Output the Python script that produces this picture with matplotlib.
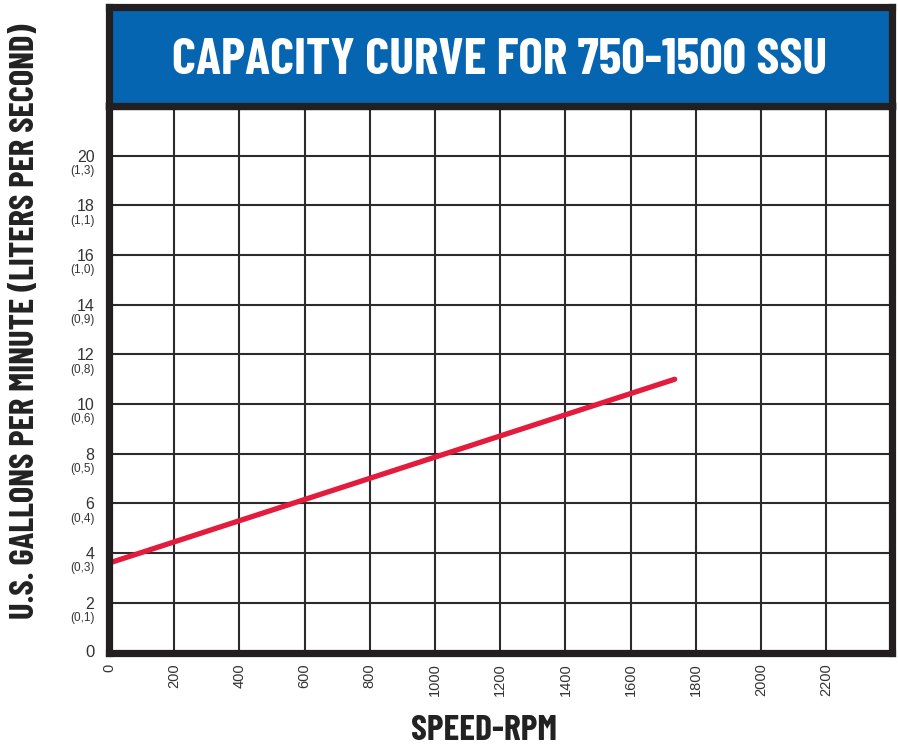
import matplotlib
matplotlib.use("Agg")
import matplotlib.pyplot as plt

# ---- data ----
speed_rpm = [0, 1735]
gpm = [3.6, 11.0]
y_ticks = [2, 4, 6, 8, 10, 12, 14, 16, 18, 20]
y_ticks_lps = ["(0,1)", "(0,3)", "(0,4)", "(0,5)", "(0,6)", "(0,8)", "(0,9)", "(1,0)", "(1,1)", "(1,3)"]
x_ticks = [0, 200, 400, 600, 800, 1000, 1200, 1400, 1600, 1800, 2000, 2200]
title = "CAPACITY CURVE FOR 750-1500 SSU"
x_label = "SPEED-RPM"
y_label = "U.S. GALLONS PER MINUTE (LITERS PER SECOND)"

cond = ["Barlow Condensed", "DejaVu Sans"]
plain = ["Liberation Sans", "DejaVu Sans"]

W, H = 898, 751
fig = plt.figure(figsize=(W / 100, H / 100), dpi=100)

frame_c = "#231f20"
grid_c = "#2b2b2b"
blue = "#0565b0"
red = "#e31b3d"
txt_c = "#333333"

# plot axes
x0, x1 = 109 / W, 891.5 / W
yb, yt = (H - 652.5) / H, (H - 106) / H
ax = fig.add_axes([x0, yb, x1 - x0, yt - yb])
ax.set_xlim(0, 2400)
ax.set_ylim(0, 22)
for s in ax.spines.values():
    s.set_linewidth(5.2)
    s.set_color(frame_c)
    s.set_zorder(5)
ax.set_xticks(range(0, 2401, 200))
ax.set_yticks(range(0, 23, 2))
ax.grid(True, color=grid_c, linewidth=1.5)
ax.tick_params(length=0, labelleft=False, labelbottom=False)
ax.plot(speed_rpm, gpm, color=red, linewidth=3.8, solid_capstyle="round", zorder=4)

# x tick labels
for v in x_ticks:
    ax.annotate(str(v), xy=(v, 0), xycoords="data", xytext=(0, -8), textcoords="offset points",
                rotation=90, ha="center", va="top", fontsize=10.5, color=txt_c, family=plain)
# y tick labels
ax.annotate("0", xy=(0, 0), xytext=(-10.5, 0), textcoords="offset points",
            ha="right", va="center", fontsize=12, color=txt_c, family=plain)
for v, l in zip(y_ticks, y_ticks_lps):
    ax.annotate(str(v), xy=(0, v), xytext=(-10.5, -1), textcoords="offset points",
                ha="right", va="center", fontsize=11.5, color=txt_c, family=plain)
    ax.annotate(l, xy=(0, v), xytext=(-10.5, -11), textcoords="offset points",
                ha="right", va="center", fontsize=8.5, color=txt_c, family=plain)

# title box
tb_top = (H - 6.5) / H
tax = fig.add_axes([x0, yt, x1 - x0, tb_top - yt])
tax.set_facecolor(blue)
tax.set_xticks([])
tax.set_yticks([])
for s in tax.spines.values():
    s.set_linewidth(5.2)
    s.set_color(frame_c)
ttl = fig.text(500 / W, (H - 74) / H, title, ha="center", va="baseline",
               color="white", fontsize=34, fontweight="bold", family=cond)

ylab = fig.text(25.5 / W, (H - 321) / H, y_label, rotation=90, ha="center", va="center",
                fontsize=25, fontweight="bold", color="#222222", family=cond)
xlab = fig.text(484 / W, (H - 740) / H, x_label, ha="center", va="baseline",
                fontsize=25, fontweight="bold", color="#222222", family=cond)

# fit text widths to reference
fig.canvas.draw()
r = fig.canvas.get_renderer()
def fit(t, target, horiz=True):
    bb = t.get_window_extent(r)
    cur = bb.width if horiz else bb.height
    t.set_fontsize(t.get_fontsize() * target / cur)
fit(ttl, 656)
fit(ylab, 596, horiz=False)
fit(xlab, 146)

fig.savefig("out.png", dpi=100)
